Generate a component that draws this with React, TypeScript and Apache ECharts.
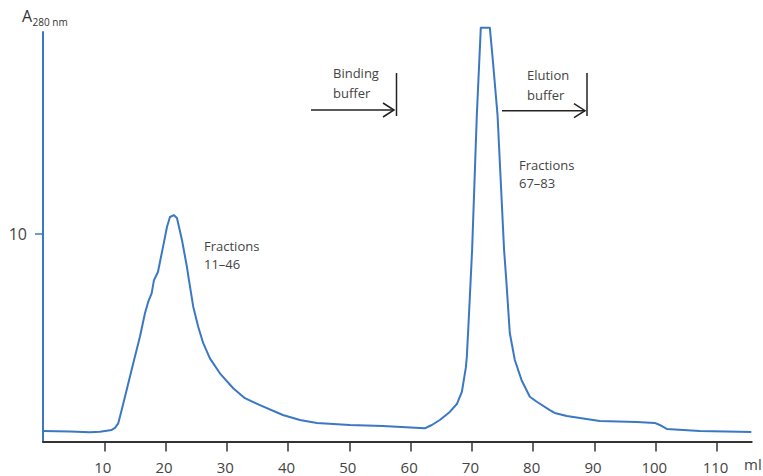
import React, { useEffect, useRef } from "react";
import * as echarts from "echarts";

// Elution volume (ml) and absorbance A280
const volumeMl = [
  0, 4.4, 7.67, 9.3, 11.2, 11.75, 12.28, 12.84, 13.65, 14.73, 15.82, 16.64, 17.18, 17.73,
  18.11, 18.76, 19.58, 20.23, 20.72, 21.37, 21.86, 22.68, 23.49, 23.82, 24.52, 25.33, 26.15,
  27.24, 28.87, 31.04, 32.95, 35.4, 39.15, 41.93, 44.7, 50.08, 55.46, 62.3, 63.46, 64.76,
  66.39, 67.54, 68.36, 68.68, 69.0, 69.17, 69.5, 69.77, 70.03, 70.8, 71.45, 72.92, 73.41,
  74.18, 75.25, 75.64, 76.18, 77.0, 78.09, 79.45, 80.59, 82.71, 83.52, 85.48, 90.86, 96.9,
  99.84, 100.65, 101.79, 107.18, 115.6,
];
const absorbance = [
  0.51, 0.49, 0.45, 0.47, 0.56, 0.66, 0.88, 1.52, 2.49, 3.77, 5.05, 6.18, 6.74, 7.14,
  7.78, 8.17, 9.37, 10.34, 10.82, 10.91, 10.77, 9.71, 8.41, 7.78, 6.5, 5.53, 4.74,
  4.01, 3.29, 2.57, 2.09, 1.76, 1.28, 1.04, 0.9, 0.8, 0.75, 0.64, 0.8, 1.04,
  1.43, 1.81, 2.39, 2.97, 3.55, 4.08, 6.0, 7.64, 9.23, 15.73, 19.94, 19.94, 18.38,
  15.73, 9.23, 7.64, 5.23, 3.93, 2.97, 2.16, 1.92, 1.52, 1.38, 1.23, 0.99, 0.94,
  0.9, 0.8, 0.61, 0.51, 0.46,
];
const xTickValues = [10, 20, 30, 40, 50, 60, 70, 80, 90, 100, 110];
const yTickValues = [10];
const xMax = 115.66;
const yMax = 19.73;

const FONT = "'Open Sans', sans-serif";
const TEXT = "#444";
const BLUE = "#3b78c3";

export default function App() {
  const ref = useRef<HTMLDivElement>(null);
  useEffect(() => {
    if (!ref.current) return;
    const chart = echarts.init(ref.current, undefined, { renderer: "svg" });
    const data = volumeMl.map((v, i) => [v, absorbance[i]]);
    const arrowStyle = { stroke: "#222", lineWidth: 1.5 };
    chart.setOption({
      animation: false,
      grid: { left: 43, right: 11.3, top: 32, bottom: 34.4, containLabel: false },
      xAxis: {
        type: "value",
        min: 0,
        max: xMax,
        interval: 10,
        splitLine: { show: false },
        axisLine: { show: true, onZero: false, lineStyle: { color: "#333", width: 2 } },
        axisTick: { show: true, customValues: xTickValues, length: 10, lineStyle: { color: "#333", width: 1.5 } },
        axisLabel: {
          customValues: xTickValues,
          margin: 18,
          fontSize: 15,
          fontFamily: FONT,
          color: TEXT,
          padding: [0, 3, 0, 0],
        },
      },
      yAxis: {
        type: "value",
        min: 0,
        max: yMax,
        interval: 10,
        splitLine: { show: false },
        axisLine: { show: true, lineStyle: { color: BLUE, width: 2 } },
        axisTick: { show: true, customValues: yTickValues, length: 8, lineStyle: { color: BLUE, width: 1.5 } },
        axisLabel: {
          customValues: yTickValues,
          margin: 16,
          fontSize: 16,
          fontFamily: FONT,
          color: TEXT,
        },
      },
      series: [
        {
          type: "line",
          data,
          showSymbol: false,
          smooth: false,
          clip: false,
          lineStyle: { color: BLUE, width: 2, join: "round" },
        },
      ],
      graphic: [
        {
          type: "text",
          x: 22,
          y: 8,
          style: { text: "A", fontSize: 16, fontFamily: FONT, fill: "#333" },
        },
        {
          type: "text",
          x: 32.5,
          y: 17,
          style: { text: "280 nm", fontSize: 10, fontFamily: FONT, fill: "#333" },
        },
        {
          type: "text",
          x: 744,
          y: 456,
          style: { text: "ml", fontSize: 15, fontFamily: FONT, fill: TEXT },
        },
        // Binding buffer annotation
        { type: "line", shape: { x1: 311, y1: 110, x2: 394, y2: 110 }, style: arrowStyle },
        { type: "polyline", shape: { points: [[383, 103], [394, 110], [383, 117]] }, style: { ...arrowStyle, fill: "none" } },
        { type: "line", shape: { x1: 396.5, y1: 73, x2: 396.5, y2: 116 }, style: arrowStyle },
        {
          type: "text",
          x: 333,
          y: 63,
          style: { text: "Binding\nbuffer", fontSize: 13, lineHeight: 20, fontFamily: FONT, fill: TEXT },
        },
        // Elution buffer annotation
        { type: "line", shape: { x1: 502, y1: 110.7, x2: 585, y2: 110.7 }, style: arrowStyle },
        { type: "polyline", shape: { points: [[574, 103.7], [585, 110.7], [574, 117.7]] }, style: { ...arrowStyle, fill: "none" } },
        { type: "line", shape: { x1: 587, y1: 73, x2: 587, y2: 116 }, style: arrowStyle },
        {
          type: "text",
          x: 527,
          y: 65,
          style: { text: "Elution\nbuffer", fontSize: 13, lineHeight: 20, fontFamily: FONT, fill: TEXT },
        },
        {
          type: "text",
          x: 204,
          y: 237,
          style: { text: "Fractions\n11–46", fontSize: 13, lineHeight: 18, fontFamily: FONT, fill: TEXT },
        },
        {
          type: "text",
          x: 519,
          y: 156,
          style: { text: "Fractions\n67–83", fontSize: 13, lineHeight: 18, fontFamily: FONT, fill: TEXT },
        },
      ],
    });
    return () => chart.dispose();
  }, []);
  return <div ref={ref} style={{ width: 763, height: 476, position: "absolute", left: 0, top: 0 }} />;
}
